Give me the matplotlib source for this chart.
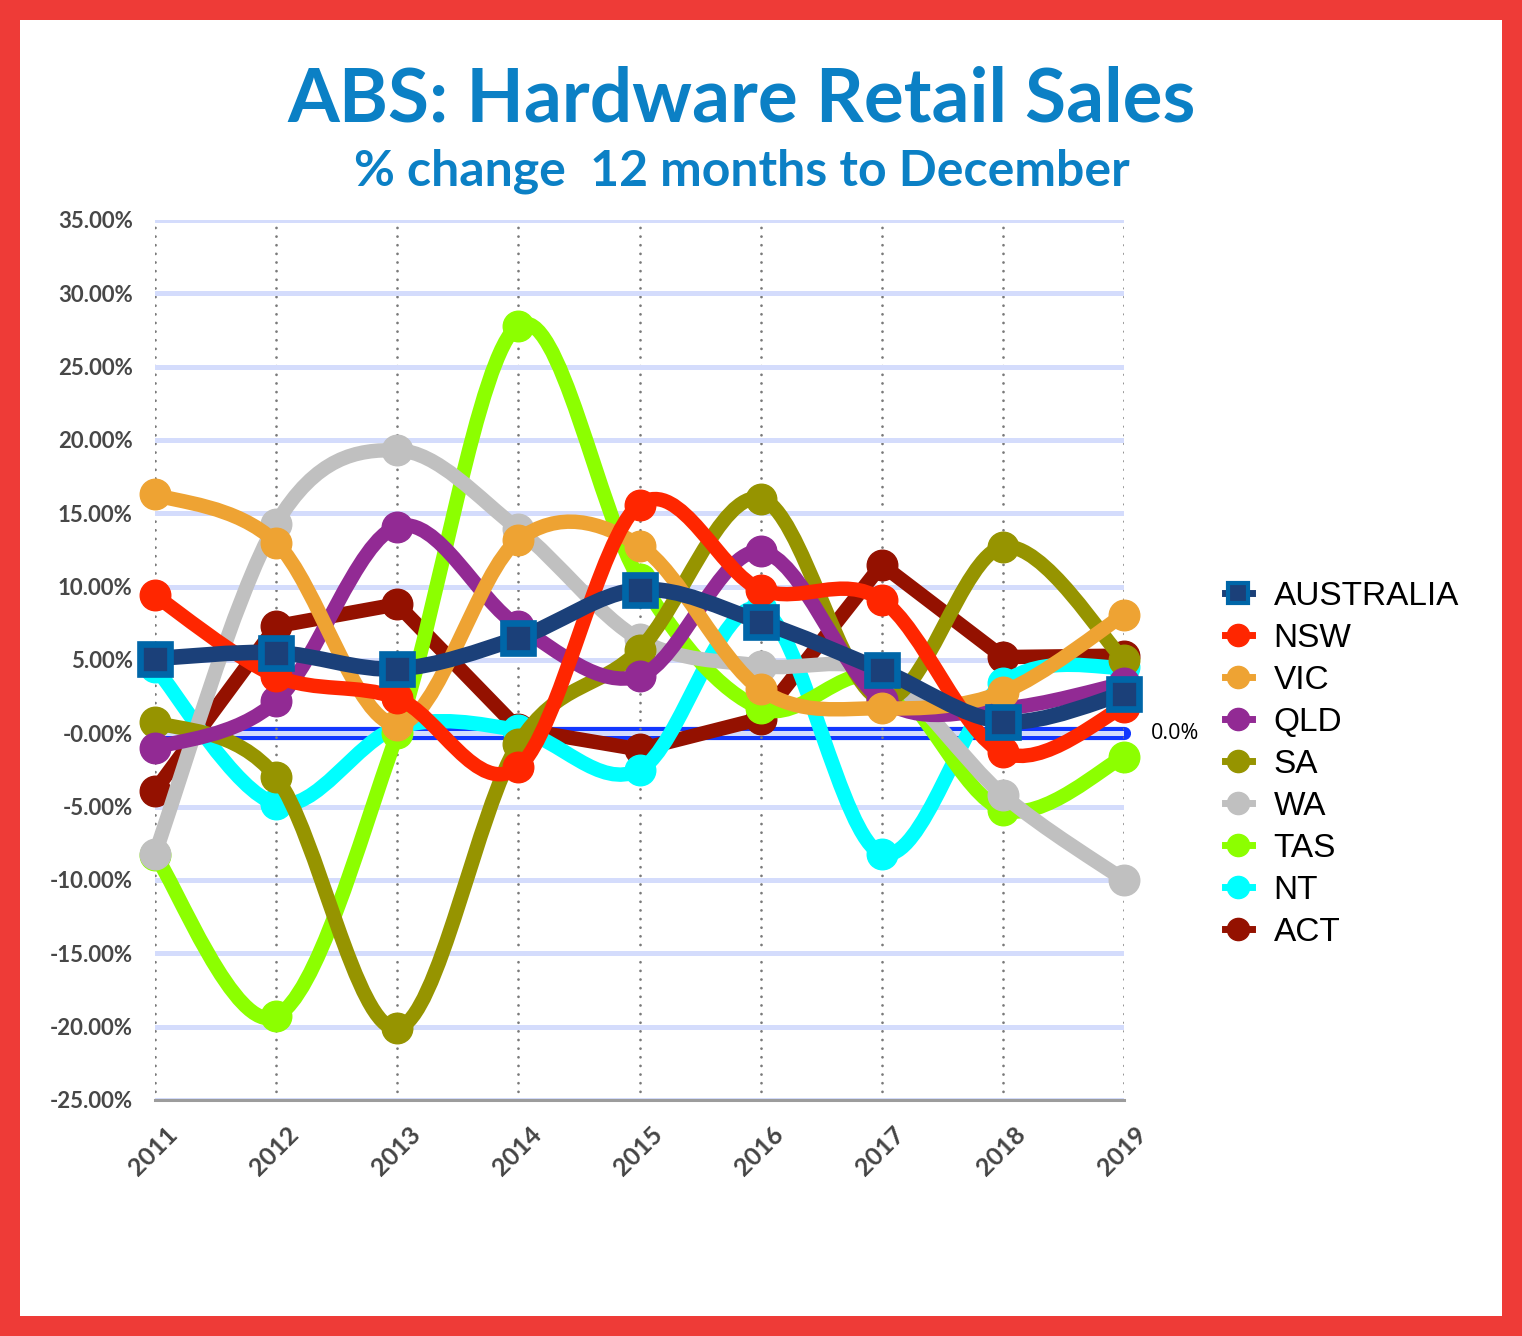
import numpy as np
import matplotlib
matplotlib.use("Agg")
import matplotlib.pyplot as plt
from matplotlib.path import Path
from matplotlib.patches import PathPatch, Rectangle
from matplotlib.lines import Line2D
import matplotlib.transforms as mtransforms

# ---- data ----
years = [2011, 2012, 2013, 2014, 2015, 2016, 2017, 2018, 2019]
australia = [5.1, 5.5, 4.4, 6.5, 9.8, 7.6, 4.3, 0.8, 2.7]
nsw = [9.4, 3.9, 2.4, -2.3, 15.6, 9.8, 9.1, -1.3, 1.8]
vic = [16.3, 13.0, 0.6, 13.2, 12.8, 3.0, 1.7, 2.8, 8.1]
qld = [-1.0, 2.2, 14.1, 7.3, 3.9, 12.4, 2.3, 1.7, 3.4]
sa = [0.8, -3.0, -20.1, -0.7, 5.7, 16.0, 2.3, 12.7, 5.0]
wa = [-8.2, 14.3, 19.3, 13.9, 6.4, 4.6, 4.0, -4.2, -10.0]
tas = [-8.3, -19.3, 0.0, 27.8, 10.5, 1.7, 3.8, -5.2, -1.6]
nt = [4.5, -4.8, 0.4, 0.2, -2.5, 8.5, -8.2, 3.4, 4.5]
act = [-3.9, 7.3, 8.8, 0.3, -1.1, 1.0, 11.5, 5.2, 5.3]

names = ['AUSTRALIA', 'NSW', 'VIC', 'QLD', 'SA', 'WA', 'TAS', 'NT', 'ACT']
colors = ['#1b4079', '#ff2600', '#eea333', '#922a94', '#969400',
          '#c0c0c0', '#8cff00', '#00ffff', '#941100']
yticks = [-25, -20, -15, -10, -5, 0, 5, 10, 15, 20, 25, 30, 35]
ylabels = ['-25.00%', '-20.00%', '-15.00%', '-10.00%', '-5.00%', '-0.00%',
           '5.00%', '10.00%', '15.00%', '20.00%', '25.00%', '30.00%', '35.00%']

title = 'ABS: Hardware Retail Sales'
subtitle = '% change  12 months to December'


def smooth_path(x, y):
    # catmull-rom style bezier through the points
    x = np.asarray(x, float)
    y = np.asarray(y, float)
    n = len(x)
    verts = [(x[0], y[0])]
    codes = [Path.MOVETO]
    for i in range(n - 1):
        i0 = max(i - 1, 0)
        i3 = min(i + 2, n - 1)
        c1 = (x[i] + (x[i + 1] - x[i0]) / 6, y[i] + (y[i + 1] - y[i0]) / 6)
        c2 = (x[i + 1] - (x[i3] - x[i]) / 6, y[i + 1] - (y[i3] - y[i]) / 6)
        verts += [c1, c2, (x[i + 1], y[i + 1])]
        codes += [Path.CURVE4] * 3
    return Path(verts, codes)


W, H = 1522, 1336
fig = plt.figure(figsize=(W / 100, H / 100), dpi=100, facecolor='#ee3b37')
fig.patches.append(Rectangle((20 / W, 20 / H), 1 - 40 / W, 1 - 40 / H,
                             transform=fig.transFigure, facecolor='white',
                             edgecolor='none', zorder=-5))

ax = fig.add_axes([155 / W, 1 - 1100 / H, (1124 - 155) / W, (1100 - 220) / H])
ax.set_facecolor('none')
ax.set_xlim(2011, 2019)
ax.set_ylim(-25, 35)
ax.set_axisbelow(True)

# zero line (under the grid)
ax.axhline(0, color='#1237ff', lw=9.5, solid_capstyle='round', zorder=0.3, clip_on=False)

ax.yaxis.grid(True, color='#d4dcfc', lw=3.6)
ax.xaxis.grid(True, color='#7a7a7a', lw=2.0, linestyle=(0, (0.01, 3.1)),
              dash_capstyle='round')

for s in ['top', 'right', 'left']:
    ax.spines[s].set_visible(False)
ax.spines['bottom'].set_color('#9c9c9c')
ax.spines['bottom'].set_linewidth(2.2)

series = [australia, nsw, vic, qld, sa, wa, tas, nt, act]
lw = 10.4
for k in range(len(series) - 1, -1, -1):
    vals = series[k]
    c = colors[k]
    z = 3 + (len(series) - k)
    if names[k] == 'ACT':
        ax.plot(years, vals, color=c, lw=lw, solid_joinstyle='round',
                solid_capstyle='round', zorder=z, clip_on=False)
    elif names[k] == 'AUSTRALIA':
        ax.add_patch(PathPatch(smooth_path(years, vals), facecolor='none', edgecolor=c,
                               lw=11.2, capstyle='round', joinstyle='round',
                               zorder=z, clip_on=False))
    else:
        ax.add_patch(PathPatch(smooth_path(years, vals), facecolor='none', edgecolor=c,
                               lw=lw, capstyle='round', joinstyle='round',
                               zorder=z, clip_on=False))
    if names[k] == 'AUSTRALIA':
        ax.plot(years, vals, linestyle='none', marker='s', markersize=22,
                markerfacecolor=c, markeredgecolor='#0066a8', markeredgewidth=4.8,
                zorder=z + 0.5, clip_on=False)
    else:
        ax.plot(years, vals, linestyle='none', marker='o', markersize=22,
                markerfacecolor=c, markeredgecolor=c, zorder=z + 0.5, clip_on=False)

ax.annotate('0.0%', xy=(2019, 0), xytext=(19, 0), textcoords='offset points',
            ha='left', va='center', fontsize=15.5, family='Open Sans', color='black')

ax.set_yticks(yticks)
ax.set_yticklabels(ylabels, fontsize=16, weight='bold', color='#474747', family='Lato')
ax.tick_params(axis='y', length=0, pad=16)

ax.set_xticks(years)
ax.set_xticklabels([str(y) for y in years], rotation=45, ha='right', va='center',
                   rotation_mode='anchor', fontsize=18, weight='bold', color='#444444',
                   family='Lato')
ax.tick_params(axis='x', length=0, pad=0)
off = mtransforms.ScaledTranslation(19 / 100, -31 / 100, fig.dpi_scale_trans)
for lab in ax.get_xticklabels():
    lab.set_transform(lab.get_transform() + off)

fig.text(742 / W, 1 - 122 / H, title, ha='center', va='baseline', fontsize=53.7,
         weight='bold', color='#0b80c5', family='Lato')
fig.text(742 / W, 1 - 185 / H, subtitle, ha='center', va='baseline', fontsize=36,
         weight='bold', color='#0b80c5', family='Lato')

handles = []
for k, nm in enumerate(names):
    if nm == 'AUSTRALIA':
        handles.append(Line2D([], [], color=colors[k], lw=5, marker='s', markersize=14,
                              markerfacecolor=colors[k], markeredgecolor='#0066a8',
                              markeredgewidth=3))
    else:
        handles.append(Line2D([], [], color=colors[k], lw=5, marker='o', markersize=16,
                              markerfacecolor=colors[k], markeredgecolor=colors[k]))
leg = ax.legend(handles, names, loc='upper left', bbox_to_anchor=(1225 / W, 1 - 581 / H),
                bbox_transform=fig.transFigure, frameon=False, borderpad=0,
                borderaxespad=0, handlelength=0.8, handletextpad=0.66,
                labelspacing=0.33, prop={'family': 'Liberation Sans', 'size': 24})

fig.savefig('out.png', dpi=100, facecolor=fig.get_facecolor())
